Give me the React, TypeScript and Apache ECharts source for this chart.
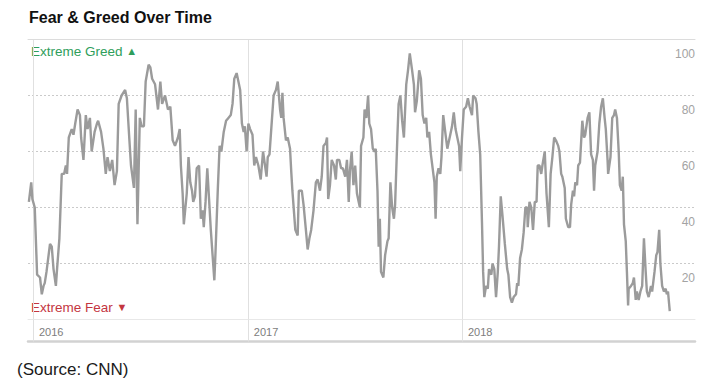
import React, { useEffect, useRef } from "react";
import * as echarts from "echarts";

const TITLE = "Fear & Greed Over Time";
const SOURCE = "(Source: CNN)";
const GREED_LABEL = "Extreme Greed";
const FEAR_LABEL = "Extreme Fear";
const yearTicks = ["2016-01-01", "2017-01-01", "2018-01-01"];
const axisStart = "2015-12-23";
const axisEnd = "2019-02-02";
const yMin = 0;
const yMax = 100;
const yStep = 20;

const fearGreed2016: [string, number][] = [
  ["2015-12-25", 42], ["2015-12-29", 49], ["2015-12-31", 43], ["2016-01-04", 40],
  ["2016-01-08", 16], ["2016-01-13", 15], ["2016-01-16", 9], ["2016-01-19", 12],
  ["2016-01-21", 13], ["2016-01-24", 17], ["2016-01-30", 27], ["2016-02-02", 26],
  ["2016-02-05", 18], ["2016-02-09", 12], ["2016-02-11", 18], ["2016-02-15", 29],
  ["2016-02-19", 52], ["2016-02-23", 52], ["2016-02-26", 55], ["2016-02-28", 52],
  ["2016-03-02", 65], ["2016-03-07", 68], ["2016-03-10", 66], ["2016-03-13", 70],
  ["2016-03-17", 75], ["2016-03-21", 73], ["2016-03-23", 65], ["2016-03-27", 57],
  ["2016-03-31", 73], ["2016-04-03", 68], ["2016-04-07", 72], ["2016-04-10", 60],
  ["2016-04-15", 67], ["2016-04-19", 70], ["2016-04-21", 71], ["2016-04-26", 67],
  ["2016-04-30", 61], ["2016-05-04", 52], ["2016-05-07", 58], ["2016-05-11", 53],
  ["2016-05-15", 57], ["2016-05-19", 48], ["2016-05-23", 53], ["2016-05-26", 77],
  ["2016-05-31", 80], ["2016-06-06", 82], ["2016-06-09", 79], ["2016-06-13", 65],
  ["2016-06-16", 55], ["2016-06-21", 47], ["2016-06-24", 75], ["2016-06-27", 34],
  ["2016-07-01", 72], ["2016-07-04", 69], ["2016-07-08", 69], ["2016-07-11", 85],
  ["2016-07-16", 91], ["2016-07-19", 90], ["2016-07-22", 86], ["2016-07-27", 84],
  ["2016-08-01", 75], ["2016-08-05", 85], ["2016-08-08", 77], ["2016-08-13", 80],
  ["2016-08-18", 75], ["2016-08-22", 76], ["2016-08-26", 64], ["2016-08-30", 62],
  ["2016-09-04", 65], ["2016-09-07", 68], ["2016-09-09", 55], ["2016-09-12", 45],
  ["2016-09-14", 34], ["2016-09-19", 45], ["2016-09-22", 58], ["2016-09-25", 49],
  ["2016-09-28", 46], ["2016-09-30", 42], ["2016-10-03", 44], ["2016-10-06", 54],
  ["2016-10-10", 55], ["2016-10-13", 36], ["2016-10-16", 39], ["2016-10-18", 33],
  ["2016-10-21", 42], ["2016-10-24", 54], ["2016-10-27", 43], ["2016-10-30", 32],
  ["2016-11-02", 23], ["2016-11-05", 14], ["2016-11-07", 24], ["2016-11-11", 47],
  ["2016-11-14", 62], ["2016-11-17", 60], ["2016-11-21", 67], ["2016-11-25", 71],
  ["2016-11-29", 72], ["2016-12-03", 73], ["2016-12-06", 77], ["2016-12-09", 86],
  ["2016-12-13", 88], ["2016-12-16", 85], ["2016-12-19", 82], ["2016-12-22", 70],
  ["2016-12-25", 67], ["2016-12-27", 69], ["2016-12-30", 60],
];

const fearGreed2017: [string, number][] = [
  ["2017-01-02", 70], ["2017-01-05", 68], ["2017-01-09", 66], ["2017-01-12", 55],
  ["2017-01-15", 58], ["2017-01-19", 55], ["2017-01-23", 50], ["2017-01-27", 60],
  ["2017-01-29", 57], ["2017-02-02", 51], ["2017-02-04", 58], ["2017-02-07", 59],
  ["2017-02-11", 71], ["2017-02-14", 80], ["2017-02-18", 82], ["2017-02-21", 85],
  ["2017-02-25", 75], ["2017-02-27", 72], ["2017-03-01", 81], ["2017-03-03", 72],
  ["2017-03-07", 64], ["2017-03-10", 65], ["2017-03-14", 61], ["2017-03-16", 53],
  ["2017-03-18", 46], ["2017-03-23", 32], ["2017-03-27", 30], ["2017-03-29", 46],
  ["2017-04-03", 46], ["2017-04-06", 41], ["2017-04-10", 32], ["2017-04-13", 25],
  ["2017-04-16", 29], ["2017-04-19", 32], ["2017-04-23", 39], ["2017-04-27", 49],
  ["2017-04-30", 50], ["2017-05-04", 46], ["2017-05-07", 51], ["2017-05-10", 62],
  ["2017-05-14", 63], ["2017-05-16", 65], ["2017-05-18", 43], ["2017-05-21", 48],
  ["2017-05-24", 57], ["2017-05-28", 55], ["2017-05-31", 50], ["2017-06-02", 57],
  ["2017-06-06", 57], ["2017-06-09", 54], ["2017-06-12", 54], ["2017-06-16", 51],
  ["2017-06-19", 57], ["2017-06-22", 42], ["2017-06-24", 53], ["2017-06-27", 60],
  ["2017-06-30", 48], ["2017-07-03", 55], ["2017-07-06", 45], ["2017-07-09", 42],
  ["2017-07-11", 40], ["2017-07-13", 62], ["2017-07-17", 65], ["2017-07-19", 75],
  ["2017-07-22", 72], ["2017-07-25", 80], ["2017-07-27", 70], ["2017-07-30", 68],
  ["2017-08-02", 61], ["2017-08-05", 60], ["2017-08-07", 61], ["2017-08-10", 46],
  ["2017-08-12", 26], ["2017-08-14", 36], ["2017-08-16", 17], ["2017-08-20", 15],
  ["2017-08-23", 23], ["2017-08-27", 28], ["2017-08-29", 29], ["2017-09-01", 49],
  ["2017-09-04", 40], ["2017-09-07", 36], ["2017-09-09", 41], ["2017-09-13", 66],
  ["2017-09-15", 77], ["2017-09-18", 80], ["2017-09-21", 71], ["2017-09-24", 65],
  ["2017-09-28", 84], ["2017-10-01", 89], ["2017-10-04", 95], ["2017-10-08", 89],
  ["2017-10-11", 84], ["2017-10-13", 74], ["2017-10-16", 78], ["2017-10-20", 89],
  ["2017-10-23", 86], ["2017-10-26", 73], ["2017-10-29", 70], ["2017-11-01", 72],
  ["2017-11-03", 65], ["2017-11-06", 67], ["2017-11-09", 59], ["2017-11-12", 54],
  ["2017-11-15", 49], ["2017-11-17", 36], ["2017-11-19", 51], ["2017-11-22", 54],
  ["2017-11-25", 52], ["2017-11-27", 58], ["2017-11-30", 73], ["2017-12-04", 66],
  ["2017-12-07", 61], ["2017-12-09", 63], ["2017-12-12", 66], ["2017-12-15", 69],
  ["2017-12-18", 74], ["2017-12-21", 68], ["2017-12-24", 65], ["2017-12-27", 62],
  ["2017-12-29", 53],
];

const fearGreed2018: [string, number][] = [
  ["2018-01-01", 65], ["2018-01-04", 75], ["2018-01-08", 76], ["2018-01-11", 79],
  ["2018-01-14", 76], ["2018-01-18", 73], ["2018-01-20", 80], ["2018-01-24", 79],
  ["2018-01-26", 77], ["2018-01-29", 67], ["2018-02-01", 59], ["2018-02-04", 35],
  ["2018-02-06", 17], ["2018-02-08", 8], ["2018-02-11", 12], ["2018-02-14", 11],
  ["2018-02-16", 18], ["2018-02-20", 16], ["2018-02-22", 20], ["2018-02-25", 18],
  ["2018-02-28", 8], ["2018-03-03", 17], ["2018-03-05", 26], ["2018-03-08", 44],
  ["2018-03-11", 37], ["2018-03-15", 27], ["2018-03-19", 18], ["2018-03-21", 16],
  ["2018-03-24", 8], ["2018-03-27", 6], ["2018-03-30", 8], ["2018-04-03", 9],
  ["2018-04-05", 13], ["2018-04-07", 12], ["2018-04-10", 22], ["2018-04-13", 25],
  ["2018-04-16", 31], ["2018-04-19", 40], ["2018-04-22", 40], ["2018-04-23", 33],
  ["2018-04-26", 42], ["2018-04-29", 40], ["2018-05-02", 32], ["2018-05-05", 42],
  ["2018-05-08", 42], ["2018-05-10", 55], ["2018-05-13", 55], ["2018-05-16", 52],
  ["2018-05-18", 55], ["2018-05-22", 60], ["2018-05-25", 45], ["2018-05-29", 33],
  ["2018-06-01", 52], ["2018-06-04", 58], ["2018-06-07", 65], ["2018-06-10", 64],
  ["2018-06-14", 62], ["2018-06-16", 60], ["2018-06-19", 52], ["2018-06-21", 51],
  ["2018-06-25", 47], ["2018-06-27", 36], ["2018-07-01", 33], ["2018-07-04", 33],
  ["2018-07-06", 41], ["2018-07-09", 46], ["2018-07-11", 44], ["2018-07-13", 49],
  ["2018-07-16", 48], ["2018-07-18", 55], ["2018-07-21", 56], ["2018-07-25", 71],
  ["2018-07-28", 65], ["2018-07-30", 66], ["2018-08-03", 72], ["2018-08-06", 74],
  ["2018-08-09", 59], ["2018-08-12", 57], ["2018-08-14", 46], ["2018-08-16", 55],
  ["2018-08-20", 60], ["2018-08-23", 70], ["2018-08-26", 76], ["2018-08-29", 79],
  ["2018-09-01", 72], ["2018-09-03", 68], ["2018-09-06", 57], ["2018-09-07", 52],
  ["2018-09-11", 58], ["2018-09-14", 72], ["2018-09-17", 73], ["2018-09-19", 75],
  ["2018-09-22", 72], ["2018-09-25", 60], ["2018-09-27", 48], ["2018-09-30", 46],
  ["2018-10-02", 51], ["2018-10-04", 34], ["2018-10-07", 28], ["2018-10-09", 17],
  ["2018-10-11", 5], ["2018-10-12", 11], ["2018-10-16", 12], ["2018-10-19", 13],
  ["2018-10-21", 15], ["2018-10-24", 7], ["2018-10-26", 10], ["2018-10-29", 7],
  ["2018-11-01", 10], ["2018-11-04", 12], ["2018-11-07", 29], ["2018-11-10", 17],
  ["2018-11-12", 10], ["2018-11-15", 8], ["2018-11-19", 12], ["2018-11-21", 10],
  ["2018-11-25", 17], ["2018-11-28", 23], ["2018-11-30", 24], ["2018-12-03", 32],
  ["2018-12-05", 20], ["2018-12-08", 12], ["2018-12-11", 10], ["2018-12-14", 11],
  ["2018-12-16", 9], ["2018-12-18", 10], ["2018-12-21", 3],
];

const FONT = '"Liberation Sans", Arial, Helvetica, sans-serif';

// parse "YYYY-MM-DD" as a UTC timestamp
const toTime = (s: string) => {
  const [y, m, d] = s.split("-").map(Number);
  return Date.UTC(y, m - 1, d);
};

export default function App() {
  const ref = useRef<HTMLDivElement>(null);

  useEffect(() => {
    if (!ref.current) return;
    const chart = echarts.init(ref.current, undefined, { renderer: "svg" });
    const yearTimes = yearTicks.map(toTime);
    const xMin = toTime(axisStart) + 12 * 3600 * 1000;
    const xMax = toTime(axisEnd);
    const seriesData = [...fearGreed2016, ...fearGreed2017, ...fearGreed2018].map(
      ([d, v]) => [toTime(d), v]
    );

    const hiddenAxis = (position: string, offset: number, color: string, width: number) => ({
      type: "value",
      min: xMin,
      max: xMax,
      position,
      offset,
      axisLine: { show: true, onZero: false, lineStyle: { color, width } },
      axisTick: { show: false },
      axisLabel: { show: false },
      splitLine: { show: false },
    });

    const option: any = {
      animation: false,
      backgroundColor: "#ffffff",
      grid: { left: 28, right: 14, top: 39.5, bottom: 72.5, containLabel: false },
      xAxis: [
        {
          type: "value",
          min: xMin,
          max: xMax,
          axisLine: { show: true, onZero: false, lineStyle: { color: "#e8e8e8", width: 1 } },
          axisTick: {
            show: true,
            customValues: yearTimes,
            length: 22,
            inside: false,
            lineStyle: { color: "#e0e0e0", width: 1 },
          },
          axisLabel: {
            customValues: yearTimes,
            formatter: (v: number) => String(new Date(v).getUTCFullYear()),
            align: "left",
            padding: [0, 0, 0, 6],
            margin: 7,
            color: "#7d7d7d",
            fontSize: 11,
            fontFamily: FONT,
          },
          splitLine: { show: true, lineStyle: { color: "#e0e0e0", width: 1 } },
        },
        hiddenAxis("bottom", 22, "#d2d2d2", 2.5),
        hiddenAxis("top", 0, "#dcdcdc", 1),
      ],
      yAxis: {
        type: "value",
        min: yMin,
        max: yMax,
        interval: yStep,
        position: "right",
        axisLine: { show: false },
        axisTick: { show: false },
        axisLabel: {
          inside: true,
          margin: 0,
          verticalAlign: "top",
          padding: [8, 0, 0, 0],
          formatter: (v: number) => (v === yMin ? "" : String(v)),
          color: "#a3a3a3",
          fontSize: 12,
          fontFamily: FONT,
        },
        splitLine: { show: true, lineStyle: { color: "#cacaca", width: 1, type: [2, 2] } },
      },
      series: [
        {
          type: "line",
          xAxisIndex: 0,
          data: seriesData,
          showSymbol: false,
          symbol: "none",
          silent: true,
          lineStyle: { color: "#9b9b9b", width: 2.4 },
        },
      ],
      graphic: [
        {
          type: "text",
          x: 29,
          y: 17,
          style: {
            text: TITLE,
            font: `bold 16px ${FONT}`,
            fill: "#111111",
            verticalAlign: "middle",
          },
        },
        {
          type: "text",
          x: 31,
          y: 51,
          style: {
            text: `${GREED_LABEL} {t|▲}`,
            font: `13.5px ${FONT}`,
            fill: "#2f9e5b",
            verticalAlign: "middle",
            rich: { t: { fontSize: 11, fill: "#2f9e5b", fontFamily: FONT } },
          },
        },
        {
          type: "text",
          x: 31,
          y: 307,
          style: {
            text: `${FEAR_LABEL} {t|▼}`,
            font: `13.5px ${FONT}`,
            fill: "#c4363f",
            verticalAlign: "middle",
            rich: { t: { fontSize: 11, fill: "#c4363f", fontFamily: FONT } },
          },
        },
        {
          type: "text",
          x: 17,
          y: 369,
          style: {
            text: SOURCE,
            font: `17px ${FONT}`,
            fill: "#1a1a1a",
            verticalAlign: "middle",
          },
        },
      ],
    };

    chart.setOption(option);
    return () => chart.dispose();
  }, []);

  return (
    <div
      ref={ref}
      style={{ position: "fixed", left: 0, top: 0, width: 709, height: 392, background: "#fff" }}
    />
  );
}
